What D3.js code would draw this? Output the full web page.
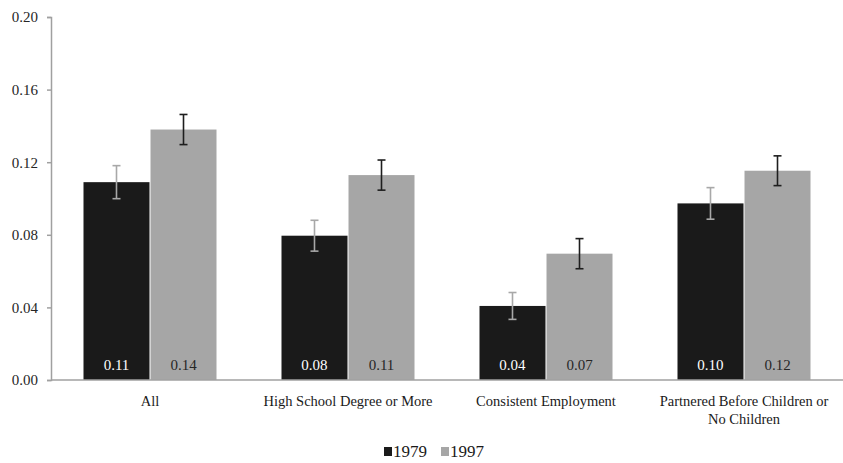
<!DOCTYPE html>
<html>
<head>
<meta charset="utf-8">
<script src="https://cdn.jsdelivr.net/npm/d3@7/dist/d3.min.js"></script>
<style>
  html, body { margin: 0; padding: 0; background: #fff; }
  svg { display: block; }
</style>
</head>
<body>
<svg id="chart" width="843" height="463"></svg>
<script>
// Categories and series
const categories = ["All", "High School Degree or More", "Consistent Employment", "Partnered Before Children or No Children"];
const categoryLines = [["All"], ["High School Degree or More"], ["Consistent Employment"], ["Partnered Before Children or", "No Children"]];
const seriesNames = ["1979", "1997"];
const values1979 = [0.109, 0.0795, 0.0408, 0.0973];
const values1997 = [0.138, 0.1129, 0.0696, 0.1153];
const err1979 = [0.0091, 0.0085, 0.0074, 0.0087];
const err1997 = [0.0083, 0.0083, 0.0083, 0.0082];
const valueLabels1979 = ["0.11", "0.08", "0.04", "0.10"];
const valueLabels1997 = ["0.14", "0.11", "0.07", "0.12"];
const yTicks = [0, 0.04, 0.08, 0.12, 0.16, 0.20];

const serif = "Liberation Serif";
const seriesColors = ["#1a1a1a", "#a6a6a6"];
const errColors = ["#a8a8a8", "#1e1e1e"];
const labelColors = ["#ffffff", "#262626"];

const svg = d3.select("#chart");
const plotLeft = 51, plotRight = 843, plotTop = 17, plotBottom = 380;

const x = d3.scaleBand().domain(categories).range([plotLeft, plotRight]).paddingInner(0).paddingOuter(0);
const xs = d3.scaleBand().domain(seriesNames).range([0, x.bandwidth()]).paddingInner(0.015).paddingOuter(0.485);
const y = d3.scaleLinear().domain([0, 0.20]).range([plotBottom, plotTop]);

const seriesData = [
  { name: "1979", values: values1979, errs: err1979, labels: valueLabels1979 },
  { name: "1997", values: values1997, errs: err1997, labels: valueLabels1997 }
];

// Y axis
const yAxis = d3.axisLeft(y).tickValues(yTicks).tickFormat(d3.format(".2f")).tickSize(4).tickPadding(9);
const yg = svg.append("g").attr("transform", `translate(${plotLeft},0)`).call(yAxis)
  .attr("font-family", serif).attr("font-size", 15);
yg.select(".domain").attr("stroke", "#a0a0a0").attr("stroke-width", 1.5);
yg.selectAll(".tick line").attr("stroke", "#a0a0a0").attr("stroke-width", 1.5);
yg.selectAll(".tick text").attr("fill", "#262626");

// Bars
seriesData.forEach((s, si) => {
  const g = svg.append("g");
  g.selectAll("rect").data(categories).join("rect")
    .attr("x", c => x(c) + xs(s.name))
    .attr("width", xs.bandwidth())
    .attr("y", (c, i) => y(s.values[i]))
    .attr("height", (c, i) => y(0) - y(s.values[i]))
    .attr("fill", seriesColors[si]);

  // Value labels inside bars
  g.selectAll("text").data(categories).join("text")
    .attr("x", c => x(c) + xs(s.name) + xs.bandwidth() / 2)
    .attr("y", y(0) - 10)
    .attr("text-anchor", "middle")
    .attr("fill", labelColors[si])
    .attr("font-family", serif)
    .attr("font-size", 15)
    .text((c, i) => s.labels[i]);

  // Error bars
  const eg = svg.append("g").attr("stroke", errColors[si]).attr("stroke-width", 1.6);
  categories.forEach((c, i) => {
    const cx = x(c) + xs(s.name) + xs.bandwidth() / 2;
    const hi = y(s.values[i] + s.errs[i]);
    const lo = y(s.values[i] - s.errs[i]);
    eg.append("line").attr("x1", cx).attr("x2", cx).attr("y1", hi).attr("y2", lo);
    eg.append("line").attr("x1", cx - 4).attr("x2", cx + 4).attr("y1", hi).attr("y2", hi);
    eg.append("line").attr("x1", cx - 4).attr("x2", cx + 4).attr("y1", lo).attr("y2", lo);
  });
});

// X axis baseline
svg.append("line").attr("x1", plotLeft).attr("x2", plotRight).attr("y1", y(0)).attr("y2", y(0))
  .attr("stroke", "#a0a0a0").attr("stroke-width", 1.5);

// Category labels
categories.forEach((c, i) => {
  const t = svg.append("text")
    .attr("x", x(c) + x.bandwidth() / 2)
    .attr("y", 406)
    .attr("text-anchor", "middle")
    .attr("fill", "#1a1a1a")
    .attr("font-family", serif)
    .attr("font-size", 14.5);
  categoryLines[i].forEach((line, li) => {
    t.append("tspan").attr("x", x(c) + x.bandwidth() / 2).attr("dy", li === 0 ? 0 : 18).text(line);
  });
});

// Legend
const legend = svg.append("g").attr("transform", "translate(384,447)");
const legendOffsets = [0, 57];
seriesNames.forEach((n, i) => {
  const lg = legend.append("g").attr("transform", `translate(${legendOffsets[i]},0)`);
  lg.append("rect").attr("width", 8).attr("height", 9).attr("fill", seriesColors[i]);
  lg.append("text").attr("x", 9).attr("y", 10).attr("fill", "#1a1a1a")
    .attr("font-family", serif).attr("font-size", 17).text(n);
});
</script>
</body>
</html>
